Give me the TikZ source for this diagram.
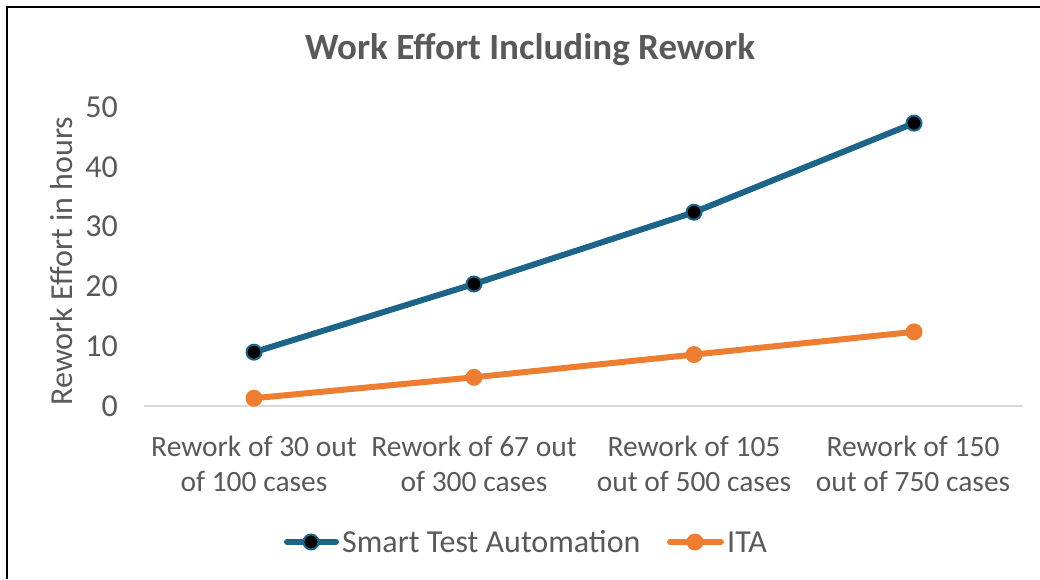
\documentclass[tikz,border=0pt]{standalone}
\usepackage{fontspec}
\setmainfont{Carlito}
\usetikzlibrary{positioning}
\definecolor{stablue}{HTML}{1C6488}
\definecolor{itaorange}{HTML}{ED7D31}
\definecolor{txtgray}{HTML}{595959}
\definecolor{axisgray}{HTML}{D9D9D9}

\begin{document}
\begin{tikzpicture}[x=1pt, y=-1pt,
lbl/.style={text=txtgray, font=\fontsize{32}{38}\selectfont, inner sep=0pt},
catlbl/.style={lbl, font=\fontsize{29.5}{35}\selectfont, align=center},
stline/.style={draw=stablue, line width=6pt, line cap=round, line join=round},
italine/.style={draw=itaorange, line width=6pt, line cap=round, line join=round},
stamark/.style={circle, fill=black, draw=stablue, line width=2pt, minimum size=15pt, inner sep=0pt},
itamark/.style={circle, fill=itaorange, minimum size=17pt, inner sep=0pt}
]
\useasboundingbox (0,0) rectangle (1040,579);

% frame (left and top only)
\draw[line width=2.6pt] (7,579) -- (7,7) -- (1040,7);

% title
\node[lbl, font=\fontsize{37}{44}\selectfont\bfseries] (title) at (530,50) {Work Effort Including Rework};

% value axis
\coordinate (axl) at (144,406);
\coordinate (axr) at (1023,406);
\draw[axisgray, line width=1.6pt] (axl) -- (axr);
\foreach \v in {0,10,...,50}
  \node[lbl, anchor=east] (tick\v) at (118, {406-5.98*\v}) {\v};
\node[lbl, rotate=90] (ytitle) at (62,261) {Rework Effort in hours};

% categories
\node[catlbl] (cat1) at (254,464) {Rework of 30 out\\of 100 cases};
\node[catlbl] (cat2) at (474,464) {Rework of 67 out\\of 300 cases};
\node[catlbl] (cat3) at (694,464) {Rework of 105\\out of 500 cases};
\node[catlbl] (cat4) at (913,464) {Rework of 150\\out of 750 cases};

% data points
\foreach \i/\v in {1/9.0, 2/20.4, 3/32.4, 4/47.3}
  \coordinate (s\i) at ({34+220*\i}, {406-5.98*\v});
\foreach \i/\v in {1/1.3, 2/4.8, 3/8.6, 4/12.4}
  \coordinate (t\i) at ({34+220*\i}, {406-5.98*\v});

\draw[italine] (t1) -- (t2) -- (t3) -- (t4);
\draw[stline] (s1) -- (s2) -- (s3) -- (s4);
\foreach \i in {1,...,4} {
  \node[itamark] at (t\i) {};
  \node[stamark] at (s\i) {};
}

% legend
\coordinate (lsa) at (287,542);
\coordinate (lsb) at (336,542);
\draw[stline] (lsa) -- (lsb);
\node[stamark] (lsm) at (311,542) {};
\node[lbl, anchor=west] (lstxt) at (342,542) {Smart Test Automation};
\coordinate (lia) at (670,542);
\coordinate (lib) at (721,542);
\draw[italine] (lia) -- (lib);
\node[itamark] (lim) at (695,542) {};
\node[lbl, anchor=west] (litxt) at (727,542) {ITA};
\end{tikzpicture}
\end{document}
